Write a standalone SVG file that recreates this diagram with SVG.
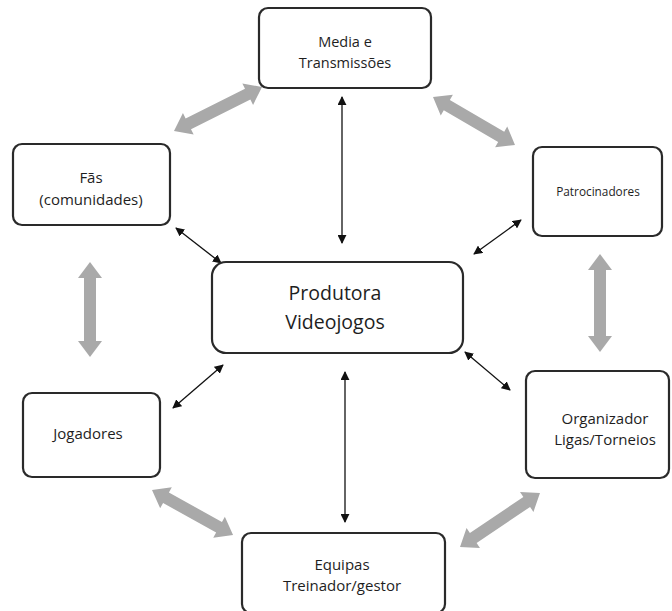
<svg xmlns="http://www.w3.org/2000/svg" width="672" height="611" viewBox="0 0 672 611">
<style>
.box{fill:#fff;stroke:#2a2a2a;stroke-width:2.2}
.t{font-family:"Open Sans","Noto Sans",sans-serif;fill:#1e1e1e;text-anchor:middle}
.ga{fill:#a9a9a9}
.ba{stroke:#111;stroke-width:1.3;fill:none;marker-start:url(#ah);marker-end:url(#ah)}
</style>
<defs>
<marker id="ah" viewBox="0 0 10 10" refX="9" refY="5" markerWidth="9" markerHeight="9" markerUnits="userSpaceOnUse" orient="auto-start-reverse">
<path d="M0,0 L10,5 L0,10 z" fill="#111"/>
</marker>
</defs>
<rect width="672" height="611" fill="#fff"/>
<g id="connectors">
<g transform="translate(174,131) rotate(-26.57)"><polygon class="ga" points="0,0 16,-12 16,-6 82.4,-6 82.4,-12 98.4,0 82.4,12 82.4,6 16,6 16,12"/></g>
<g transform="translate(433,97) rotate(30.34)"><polygon class="ga" points="0,0 16,-12 16,-6 79,-6 79,-12 95,0 79,12 79,6 16,6 16,12"/></g>
<g transform="translate(90,262) rotate(90)"><polygon class="ga" points="0,0 16,-12 16,-6 79,-6 79,-12 95,0 79,12 79,6 16,6 16,12"/></g>
<g transform="translate(600,254) rotate(90)"><polygon class="ga" points="0,0 16,-12 16,-6 82,-6 82,-12 98,0 82,12 82,6 16,6 16,12"/></g>
<g transform="translate(152,490) rotate(29.05)"><polygon class="ga" points="0,0 16,-12 16,-6 76.7,-6 76.7,-12 92.7,0 76.7,12 76.7,6 16,6 16,12"/></g>
<g transform="translate(460,547) rotate(-34.02)"><polygon class="ga" points="0,0 16,-12 16,-6 80.5,-6 80.5,-12 96.5,0 80.5,12 80.5,6 16,6 16,12"/></g>
<line class="ba" x1="342" y1="97" x2="342" y2="243"/>
<line class="ba" x1="345" y1="372" x2="345" y2="522"/>
<line class="ba" x1="176" y1="228" x2="221" y2="263"/>
<line class="ba" x1="474" y1="254" x2="521" y2="220"/>
<line class="ba" x1="173" y1="408" x2="223" y2="365"/>
<line class="ba" x1="465" y1="352" x2="510" y2="390"/>
</g>
<g id="media"><rect class="box" x="259" y="8" width="172" height="80" rx="9"/><text class="t" font-size="14.5" x="345" y="47">Media e</text><text class="t" font-size="14.5" x="345" y="68">Transmissões</text></g>
<g id="fas"><rect class="box" x="13" y="144" width="157" height="81" rx="9"/><text class="t" font-size="15" x="91" y="183">Fãs</text><text class="t" font-size="15" x="91" y="205">(comunidades)</text></g>
<g id="patrocinadores"><rect class="box" x="533" y="147" width="129" height="89" rx="9"/><text class="t" font-size="11.8" x="598" y="196">Patrocinadores</text></g>
<g id="produtora"><rect class="box" x="212" y="262" width="251" height="91" rx="14"/><text class="t" font-size="19.5" x="335" y="300">Produtora</text><text class="t" font-size="19.5" x="335" y="329">Videojogos</text></g>
<g id="jogadores"><rect class="box" x="23" y="393" width="137" height="84" rx="9"/><text class="t" font-size="15" x="88" y="439">Jogadores</text></g>
<g id="organizador"><rect class="box" x="526" y="371" width="143" height="107" rx="9"/><text class="t" font-size="15" x="605" y="424">Organizador</text><text class="t" font-size="15" x="605" y="445">Ligas/Torneios</text></g>
<g id="equipas"><rect class="box" x="242" y="533" width="203" height="80" rx="9"/><text class="t" font-size="15" x="342" y="570">Equipas</text><text class="t" font-size="15" x="342" y="591">Treinador/gestor</text></g>
</svg>
